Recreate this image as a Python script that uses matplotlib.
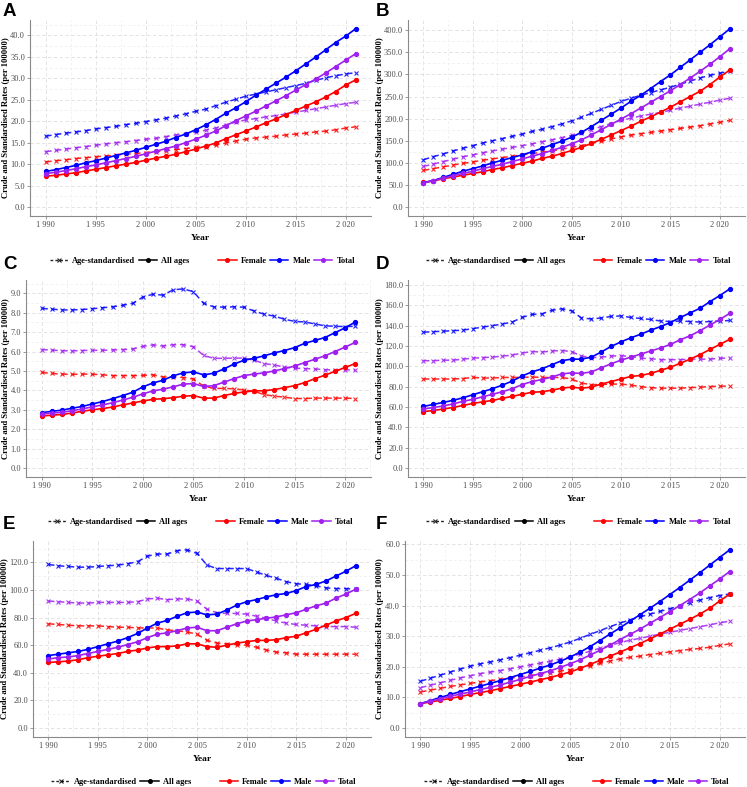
import matplotlib
matplotlib.use("Agg")
import matplotlib.pyplot as plt
from matplotlib.lines import Line2D
from matplotlib.ticker import MultipleLocator, FuncFormatter

years = list(range(1990, 2022))

# panel A
a_male_all = [8.3, 8.7, 9.2, 9.7, 10.3, 10.8, 11.4, 12.0, 12.6, 13.2, 13.9, 14.6, 15.3, 16.2, 17.0, 18.0,
              19.1, 20.4, 21.8, 23.1, 24.5, 26.0, 27.4, 28.8, 30.2, 31.7, 33.3, 34.9, 36.6, 38.3, 39.8, 41.5]
a_female_all = [7.2, 7.4, 7.7, 8.0, 8.4, 8.8, 9.2, 9.6, 10.0, 10.4, 10.9, 11.4, 11.8, 12.3, 12.9, 13.5,
                14.2, 14.9, 15.9, 16.8, 17.7, 18.6, 19.6, 20.5, 21.5, 22.5, 23.5, 24.5, 25.6, 26.9, 28.4, 29.6]
a_total_all = [7.8, 8.1, 8.5, 8.9, 9.4, 9.8, 10.3, 10.8, 11.3, 11.8, 12.4, 13.0, 13.6, 14.2, 15.0, 15.8,
               16.7, 17.7, 18.9, 20.1, 21.2, 22.3, 23.5, 24.7, 25.9, 27.2, 28.5, 29.8, 31.2, 32.7, 34.2, 35.7]
a_male_asr = [16.5, 16.9, 17.2, 17.5, 17.8, 18.2, 18.5, 18.8, 19.2, 19.5, 19.9, 20.3, 20.7, 21.2, 21.7, 22.3,
              22.8, 23.6, 24.4, 25.1, 25.8, 26.3, 26.8, 27.3, 27.8, 28.3, 28.8, 29.5, 30.1, 30.6, 31.0, 31.3]
a_female_asr = [10.5, 10.8, 11.0, 11.3, 11.5, 11.7, 11.9, 12.1, 12.3, 12.5, 12.7, 12.9, 13.1, 13.4, 13.6, 13.9,
                14.1, 14.5, 14.9, 15.4, 15.8, 16.1, 16.3, 16.5, 16.8, 17.0, 17.2, 17.5, 17.7, 18.0, 18.4, 18.7]
a_total_asr = [12.9, 13.2, 13.5, 13.8, 14.1, 14.4, 14.7, 15.0, 15.2, 15.5, 15.8, 16.0, 16.4, 16.8, 17.1, 17.5,
               17.9, 18.4, 19.1, 19.8, 20.3, 20.6, 21.0, 21.3, 21.7, 22.1, 22.5, 22.9, 23.3, 23.7, 24.1, 24.4]

# panel B
b_male_all = [55, 60, 67, 74, 81, 87, 93, 100, 106, 112, 118, 125, 133, 141, 149, 158,
              169, 182, 196, 210, 224, 239, 253, 268, 284, 299, 316, 333, 350, 367, 385, 403]
b_female_all = [56, 59, 64, 68, 72, 76, 80, 85, 89, 94, 99, 104, 110, 115, 121, 128,
                135, 144, 153, 163, 173, 183, 194, 204, 215, 226, 238, 250, 262, 277, 294, 310]
b_total_all = [55, 60, 65, 71, 76, 81, 87, 92, 97, 103, 109, 115, 121, 128, 135, 143,
               152, 163, 175, 187, 199, 211, 224, 237, 250, 263, 277, 292, 307, 323, 340, 358]
b_male_asr = [107, 114, 120, 127, 133, 139, 145, 150, 155, 160, 165, 171, 176, 182, 188, 195,
              203, 212, 221, 230, 239, 246, 253, 259, 265, 271, 278, 285, 292, 298, 303, 307]
b_female_asr = [83, 87, 91, 95, 99, 102, 106, 109, 112, 115, 118, 121, 124, 127, 131, 135,
                139, 144, 149, 154, 159, 163, 166, 169, 172, 175, 178, 181, 184, 188, 192, 196]
b_total_asr = [92, 97, 103, 108, 114, 118, 123, 127, 131, 135, 139, 143, 148, 152, 157, 162,
               168, 175, 182, 189, 196, 201, 206, 210, 214, 219, 224, 228, 233, 237, 242, 246]

# panel C
c_male_all = [2.85, 2.92, 2.98, 3.08, 3.17, 3.30, 3.42, 3.57, 3.73, 3.90, 4.18, 4.38, 4.52, 4.75, 4.90, 4.95,
              4.80, 4.88, 5.10, 5.35, 5.55, 5.65, 5.78, 5.93, 6.05, 6.20, 6.42, 6.57, 6.72, 6.97, 7.22, 7.52]
c_female_all = [2.68, 2.72, 2.76, 2.83, 2.92, 3.00, 3.06, 3.14, 3.25, 3.35, 3.45, 3.54, 3.57, 3.62, 3.70, 3.73,
                3.60, 3.60, 3.73, 3.84, 3.92, 3.97, 3.98, 4.04, 4.14, 4.24, 4.40, 4.60, 4.78, 4.98, 5.18, 5.38]
c_total_all = [2.78, 2.83, 2.87, 2.95, 3.04, 3.15, 3.25, 3.36, 3.50, 3.64, 3.82, 3.97, 4.06, 4.18, 4.32, 4.35,
               4.20, 4.24, 4.42, 4.60, 4.76, 4.84, 4.90, 5.00, 5.12, 5.25, 5.43, 5.60, 5.78, 6.00, 6.23, 6.47]
c_male_asr = [8.22, 8.18, 8.14, 8.14, 8.16, 8.20, 8.25, 8.30, 8.38, 8.48, 8.80, 8.95, 8.90, 9.18, 9.22, 9.08,
              8.48, 8.30, 8.28, 8.30, 8.28, 8.08, 7.92, 7.82, 7.66, 7.55, 7.52, 7.42, 7.32, 7.30, 7.28, 7.30]
c_female_asr = [4.92, 4.87, 4.84, 4.82, 4.84, 4.83, 4.80, 4.76, 4.76, 4.76, 4.77, 4.80, 4.68, 4.70, 4.66, 4.58,
                4.22, 4.10, 4.10, 4.08, 4.02, 3.95, 3.78, 3.70, 3.65, 3.58, 3.58, 3.60, 3.60, 3.60, 3.60, 3.58]
c_total_asr = [6.10, 6.07, 6.04, 6.03, 6.05, 6.06, 6.06, 6.08, 6.10, 6.13, 6.27, 6.34, 6.28, 6.35, 6.35, 6.25,
               5.80, 5.65, 5.65, 5.66, 5.66, 5.55, 5.38, 5.30, 5.20, 5.14, 5.12, 5.10, 5.06, 5.05, 5.06, 5.04]

# panel D
d_male_all = [60.5, 62.5, 64.5, 66.5, 69, 72, 75, 78, 81.5, 85.5, 90.5, 94.5, 97.5, 101.5, 105.5, 107,
              107, 109, 114, 119.5, 124, 128, 131.5, 135.5, 139, 143, 148, 152.5, 157, 163.5, 169.5, 176]
d_female_all = [55.5, 56.5, 58, 59.5, 61.5, 63.5, 65, 66.5, 68.5, 70.5, 72.5, 74.5, 75, 76.5, 78.5, 79.5,
                78.5, 79.5, 82.5, 85, 87.5, 90, 91, 93, 96, 99, 103, 107, 111.5, 116.5, 121.5, 126.5]
d_total_all = [58, 59.5, 61, 63, 65.5, 67.5, 70, 72.5, 75, 78, 82, 85, 87, 89.5, 92.5, 93.5,
               93, 94.5, 98.5, 102.5, 106, 109, 112, 115, 118, 121.5, 126, 130, 135, 140.5, 146, 152]
d_male_asr = [133.5, 134, 134.5, 135, 135.5, 137, 138.5, 140, 141.5, 143.5, 148, 151, 151.5, 155, 156.5, 154.5,
              147.5, 146.5, 147.5, 149, 149.5, 148, 147, 146, 144.5, 144, 144.5, 144, 143.5, 144, 144.5, 145]
d_female_asr = [87.5, 87.5, 87.5, 87.5, 88, 89, 88.5, 88.5, 89, 89, 89, 89.5, 89, 89, 89, 87.5,
                83.5, 82, 82, 82.5, 82.5, 81.5, 80, 79, 78.5, 78.5, 78.5, 79, 79.5, 80, 80.5, 80.5]
d_total_asr = [105.5, 105.5, 106, 106, 107, 108, 108.5, 109, 110, 111, 113, 114.5, 114, 115, 115.5, 114.5,
               110, 108.5, 109, 110, 110.5, 109.5, 108, 107.5, 106.5, 106.5, 106.5, 107, 107, 107, 108, 108]

# panel E
e_male_all = [52.5, 53.5, 54.5, 55.5, 57, 59, 61, 63, 65.5, 68.5, 72.5, 76, 78, 81, 83.5, 84,
              82, 82.5, 85.5, 89, 91.5, 93, 95, 96.5, 97.5, 99.5, 102.5, 104, 106.5, 110, 113.5, 117.5]
e_female_all = [47.5, 48, 48.5, 49.5, 51, 52, 53, 54, 55.5, 56.5, 58, 59, 59, 59.5, 61, 61,
                59, 58.5, 60, 61.5, 62.5, 63.5, 63.5, 64, 65.5, 66.5, 69, 71.5, 74.5, 77.5, 80, 83]
e_total_all = [50, 51, 51.5, 52.5, 54, 55.5, 57, 58.5, 60.5, 62.5, 65.5, 68, 69, 70.5, 72.5, 73,
               70.5, 70.5, 73, 75.5, 77.5, 78.5, 79.5, 80.5, 82, 83.5, 86, 88.5, 90.5, 94, 97, 100.5]
e_male_asr = [118.5, 117.5, 117, 116.5, 116.5, 117, 117.5, 118, 119, 120.5, 124.5, 126, 126, 128.5, 129, 126.5,
              118, 115.5, 115.5, 115.5, 115.5, 113, 110.5, 108.5, 106, 104.5, 104, 103, 101.5, 101, 101, 100.5]
e_female_asr = [75.5, 75, 74.5, 74, 74, 74, 73.5, 73, 73, 72.5, 72.5, 72.5, 71, 70.5, 69.5, 68,
                63.5, 61.5, 61, 60.5, 60, 58.5, 56.5, 55, 54.5, 53.5, 53.5, 53.5, 53.5, 53.5, 53.5, 53.5]
e_total_asr = [92, 91.5, 91, 90.5, 90.5, 91, 91, 91, 91, 91.5, 93.5, 94, 93, 93.5, 93.5, 92,
               86, 83.5, 83, 83, 82.5, 81, 79.5, 77.5, 76, 75, 74.5, 74, 73.5, 73.5, 73.5, 73]

# panel F
f_male_all = [8.0, 9.0, 10.0, 11.0, 11.9, 12.8, 13.7, 14.6, 15.5, 16.5, 17.5, 18.5, 19.6, 20.6, 21.8, 23.2,
              24.8, 26.6, 28.6, 30.7, 32.7, 34.9, 37.0, 39.1, 41.3, 43.6, 45.9, 48.3, 50.7, 53.2, 55.7, 58.2]
f_female_all = [8.0, 8.5, 9.1, 9.7, 10.3, 11.0, 11.6, 12.2, 12.9, 13.6, 14.3, 15.0, 15.8, 16.5, 17.4, 18.3,
                19.5, 20.8, 22.1, 23.5, 24.8, 26.2, 27.6, 29.1, 30.7, 32.3, 33.9, 35.5, 37.2, 39.1, 41.5, 43.7]
f_total_all = [8.0, 8.8, 9.6, 10.4, 11.1, 11.8, 12.6, 13.3, 14.1, 15.0, 15.9, 16.9, 17.8, 18.7, 19.8, 21.0,
               22.3, 23.8, 25.4, 27.1, 28.9, 30.6, 32.3, 34.2, 36.1, 38.0, 40.0, 42.0, 44.1, 46.4, 48.7, 51.1]
f_male_asr = [15.3, 16.3, 17.3, 18.3, 19.3, 20.2, 21.0, 21.6, 22.3, 23.0, 23.8, 24.6, 25.4, 26.2, 27.1, 28.1,
              29.3, 30.6, 31.8, 33.1, 34.3, 35.3, 36.3, 37.2, 38.1, 39.0, 39.9, 40.9, 41.8, 42.6, 43.3, 43.8]
f_female_asr = [11.8, 12.4, 13.0, 13.6, 14.1, 14.6, 15.1, 15.5, 15.9, 16.3, 16.7, 17.1, 17.6, 18.1, 18.6, 19.1,
                19.7, 20.4, 21.1, 21.9, 22.6, 23.1, 23.5, 24.0, 24.4, 24.9, 25.3, 25.7, 26.0, 26.4, 27.0, 27.5]
f_total_asr = [13.2, 14.0, 14.8, 15.6, 16.4, 17.1, 17.8, 18.3, 18.8, 19.4, 20.0, 20.6, 21.2, 21.8, 22.5, 23.3,
               24.2, 25.1, 26.1, 27.0, 27.9, 28.7, 29.3, 30.0, 30.7, 31.3, 31.9, 32.5, 33.1, 33.7, 34.4, 34.9]

panel_labels = ["A", "B", "C", "D", "E", "F"]
ytick_steps = [5, 50, 1, 20, 20, 10]
sex_names = ["Female", "Male", "Total"]
sex_colors = ["#FF0000", "#0000FF", "#A020F0"]

panels = [
    (a_female_all, a_male_all, a_total_all, a_female_asr, a_male_asr, a_total_asr),
    (b_female_all, b_male_all, b_total_all, b_female_asr, b_male_asr, b_total_asr),
    (c_female_all, c_male_all, c_total_all, c_female_asr, c_male_asr, c_total_asr),
    (d_female_all, d_male_all, d_total_all, d_female_asr, d_male_asr, d_total_asr),
    (e_female_all, e_male_all, e_total_all, e_female_asr, e_male_asr, e_total_asr),
    (f_female_all, f_male_all, f_total_all, f_female_asr, f_male_asr, f_total_asr),
]

W, H = 747, 787
# axes boxes in pixels: x0, x1, y0 (top), y1 (bottom)
boxes = [(30, 371, 20, 216), (408, 745, 20, 216),
         (26, 371, 280, 477), (408, 745, 280, 477),
         (33, 371, 541, 737), (405, 745, 541, 737)]
label_pos = [(3, 3), (376, 3), (3, 256), (376, 256), (3, 516), (376, 516)]
ylabel_right = [10, 384, 10, 384, 9.5, 384]

SERIF = "Liberation Serif"
fig = plt.figure(figsize=(W / 100, H / 100), dpi=100)

for i, data in enumerate(panels):
    x0, x1, y0, y1 = boxes[i]
    ax = fig.add_axes([x0 / W, 1 - y1 / H, (x1 - x0) / W, (y1 - y0) / H])
    ax.set_axisbelow(True)

    for k in range(3):
        ax.plot(years, data[k + 3], color=sex_colors[k], ls=(0, (4, 2.5)), lw=1.1,
                marker="x", ms=3.2, mew=0.8, alpha=0.85, zorder=2)
    for k in range(3):
        ax.plot(years, data[k], color=sex_colors[k], ls="-", lw=1.2,
                marker="o", ms=2.8, zorder=3)

    ymax = max(max(s) for s in data)
    pad = 0.05 * ymax
    ax.set_ylim(-pad, ymax + pad)
    ax.set_xlim(1990 - 0.05 * 31, 2021 + 0.05 * 31)

    step = ytick_steps[i]
    ax.yaxis.set_major_locator(MultipleLocator(step))
    ax.yaxis.set_minor_locator(MultipleLocator(step / 2))
    ax.xaxis.set_major_locator(MultipleLocator(5))
    ax.xaxis.set_minor_locator(MultipleLocator(2.5))
    ax.yaxis.set_major_formatter(FuncFormatter(lambda v, p: f"{v:.1f}"))
    ax.xaxis.set_major_formatter(FuncFormatter(lambda v, p: f"{int(v):,}".replace(",", " ")))

    ax.grid(which="major", color="#DEDEDE", ls=(0, (4, 3)), lw=0.6)
    ax.grid(which="minor", color="#EDEDED", ls=(0, (4, 3)), lw=0.5)
    for side in ["top", "right"]:
        ax.spines[side].set_visible(False)
    for side in ["left", "bottom"]:
        ax.spines[side].set_color("#8A8A8A")
        ax.spines[side].set_linewidth(0.8)
    ax.tick_params(which="major", length=2, width=0.6, color="#8A8A8A", pad=1.5,
                   labelsize=6.0, labelcolor="#4D4D4D")
    ax.tick_params(which="minor", length=0)
    for t in ax.get_xticklabels() + ax.get_yticklabels():
        t.set_fontfamily(SERIF)

    ax.set_xlabel("Year", family=SERIF, fontweight="bold", fontsize=6.8, labelpad=4)
    ax.set_ylabel("Crude and Standardised Rates (per 100000)", family=SERIF,
                  fontweight="bold", fontsize=6.2)
    ax.yaxis.set_label_coords((ylabel_right[i] - x0) / (x1 - x0), 0.5)

    lt_handles = [Line2D([], [], color="black", ls=(0, (2, 1.5)), lw=1.0, marker="x", ms=3, mew=0.8, alpha=0.85),
                  Line2D([], [], color="black", ls="-", lw=1.1, marker="o", ms=2.6)]
    leg1 = ax.legend(lt_handles, ["Age-standardised", "All ages"], ncol=2, loc="center right",
                     bbox_to_anchor=(0.49, -0.23), frameon=False, handlelength=2.2,
                     handletextpad=0.5, columnspacing=0.4,
                     prop={"family": SERIF, "weight": "bold", "size": 6.0})
    ax.add_artist(leg1)
    col_handles = [Line2D([], [], color=c, ls="-", lw=1.1, marker="o", ms=2.6) for c in sex_colors]
    ax.legend(col_handles, sex_names, ncol=3, loc="center left",
              bbox_to_anchor=(0.53, -0.23), frameon=False, handlelength=2.2,
              handletextpad=0.5, columnspacing=0.4,
              prop={"family": SERIF, "weight": "bold", "size": 6.0})

    lx, ly = label_pos[i]
    fig.text(lx / W, 1 - ly / H, panel_labels[i], family="Liberation Sans", fontweight="bold",
             fontsize=13.5, va="top", ha="left")

fig.savefig("out.png", dpi=100)
